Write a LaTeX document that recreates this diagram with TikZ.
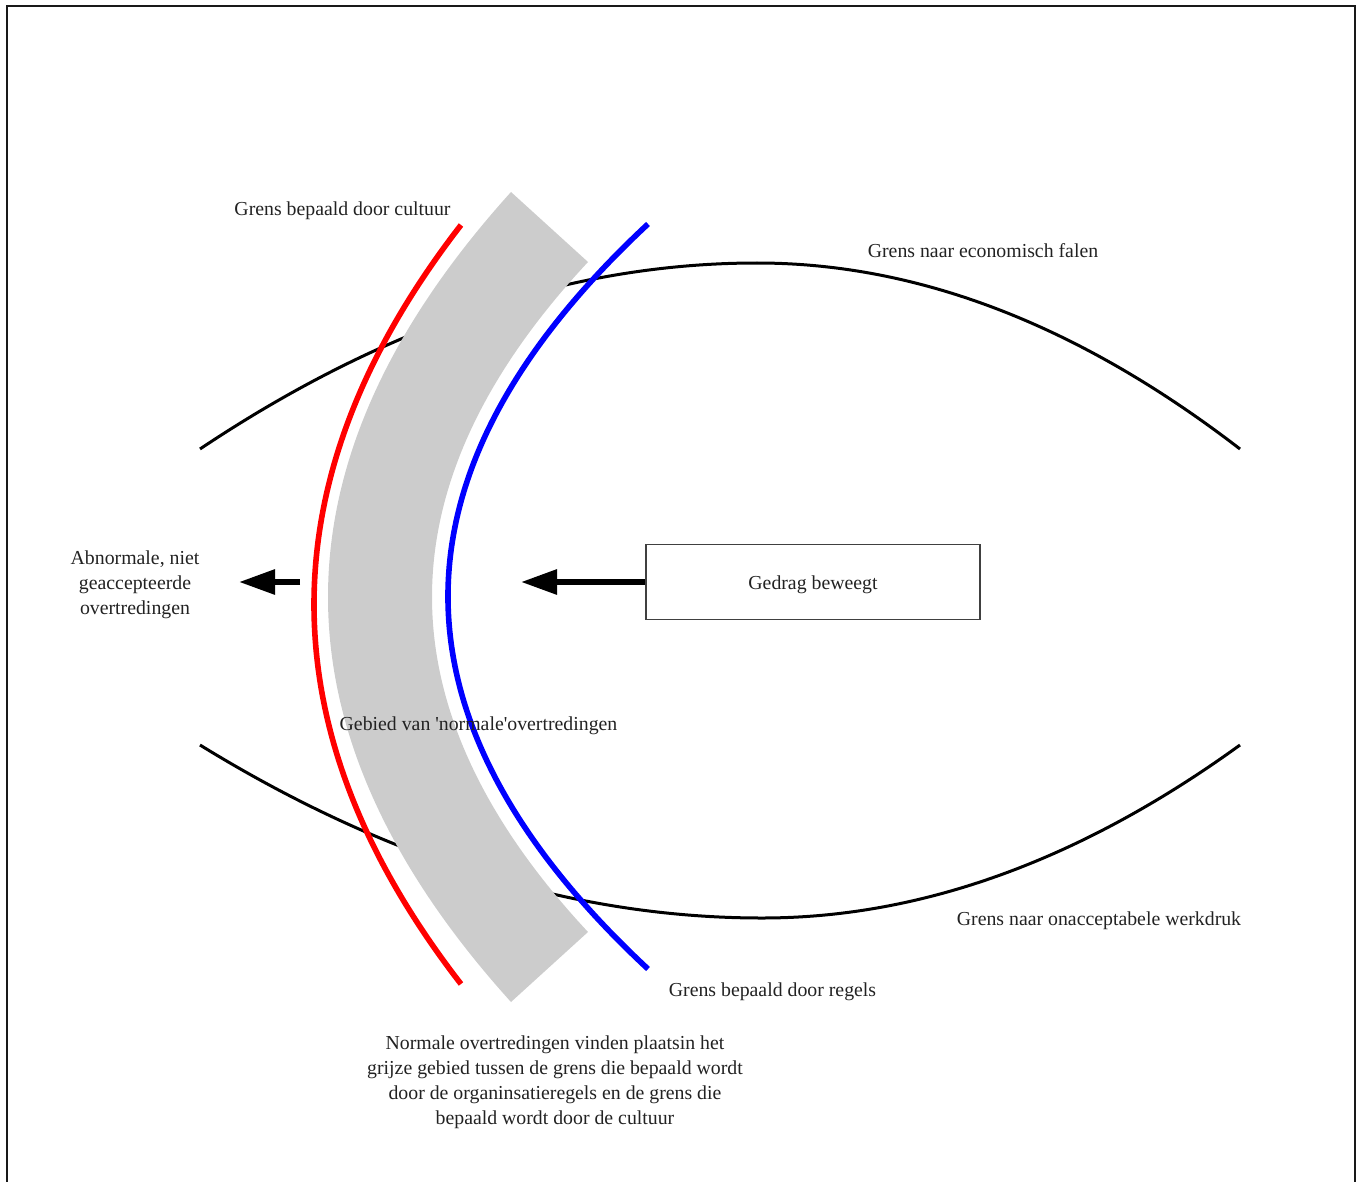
\documentclass[tikz,border=0pt]{standalone}
\usepackage{fontspec}
\setmainfont{Liberation Serif}
\usetikzlibrary{arrows.meta}
\definecolor{bandgray}{HTML}{CCCCCC}
\definecolor{inkgray}{HTML}{222222}
\begin{document}
\begin{tikzpicture}[x=0.5pt,y=-0.5pt,
  lbl/.style={font=\fontsize{9.9}{12.5}\selectfont, text=inkgray, inner sep=0pt, align=center},
  bound/.style={line width=1.5pt, black},
  limit/.style={line width=2.8pt},
  push/.style={line width=3pt, -{Triangle[length=18pt,width=12pt]}},
  boxed/.style={lbl, draw=black!75, line width=0.6pt, minimum width=167pt, minimum height=37.5pt,
                text height=9.8pt, text depth=2.1pt},
]
\useasboundingbox (0,0) rectangle (1359,1182);

% outer frame (open at the bottom)
\draw[line width=1pt, black!90] (7,1182) -- (7,6) -- (1355,6) -- (1355,1182);

% limits: economic failure (top) and unacceptable workload (bottom)
\draw[bound] (200,449) .. controls (385.7,325) and (571.3,263) .. (757,263)
             .. controls (918,263) and (1079,325) .. (1240,449);
\draw[bound] (200,745) .. controls (387.3,860.3) and (574.7,918) .. (762,918)
             .. controls (921.3,918) and (1080.7,860.3) .. (1240,745);

% grey zone of normal violations
\fill[bandgray] (511,192) .. controls (267,462) and (267,732) .. (511,1002)
   -- (588,932) .. controls (380,708.7) and (380,485.3) .. (588,262) -- cycle;

% culture limit (red) and rules limit (blue)
\draw[limit, red] (461,225) .. controls (265,478) and (265,731) .. (461,984);
\draw[limit, blue] (648,224) .. controls (381.3,472.3) and (381.3,720.7) .. (648,969);

% box and arrows
\node[boxed] (move) at (813,582) {Gedrag beweegt};
\coordinate (movetip) at (521,582);
\draw[push] (move.west) -- (movetip);
\coordinate (outstart) at (300,582);
\coordinate (outtip) at (239,582);
\draw[push] (outstart) -- (outtip);

% labels
\node[lbl] (culture) at (342.5,210.5) {Grens bepaald door cultuur};
\node[lbl] (econ) at (983,250.5) {Grens naar economisch falen};
\node[lbl] (abnormal) at (135,584.5) {Abnormale, niet\\geaccepteerde\\overtredingen};
\node[lbl] (area) at (478.5,725.5) {Gebied van \textquotesingle normale\textquotesingle overtredingen};
\node[lbl] (work) at (1099,920.5) {Grens naar onacceptabele werkdruk};
\node[lbl] (rules) at (772.5,991.5) {Grens bepaald door regels};
\node[lbl] (note) at (555,1082) {Normale overtredingen vinden plaatsin het\\grijze gebied tussen de grens die bepaald wordt\\door de organinsatieregels en de grens die\\bepaald wordt door de cultuur};
\end{tikzpicture}
\end{document}
